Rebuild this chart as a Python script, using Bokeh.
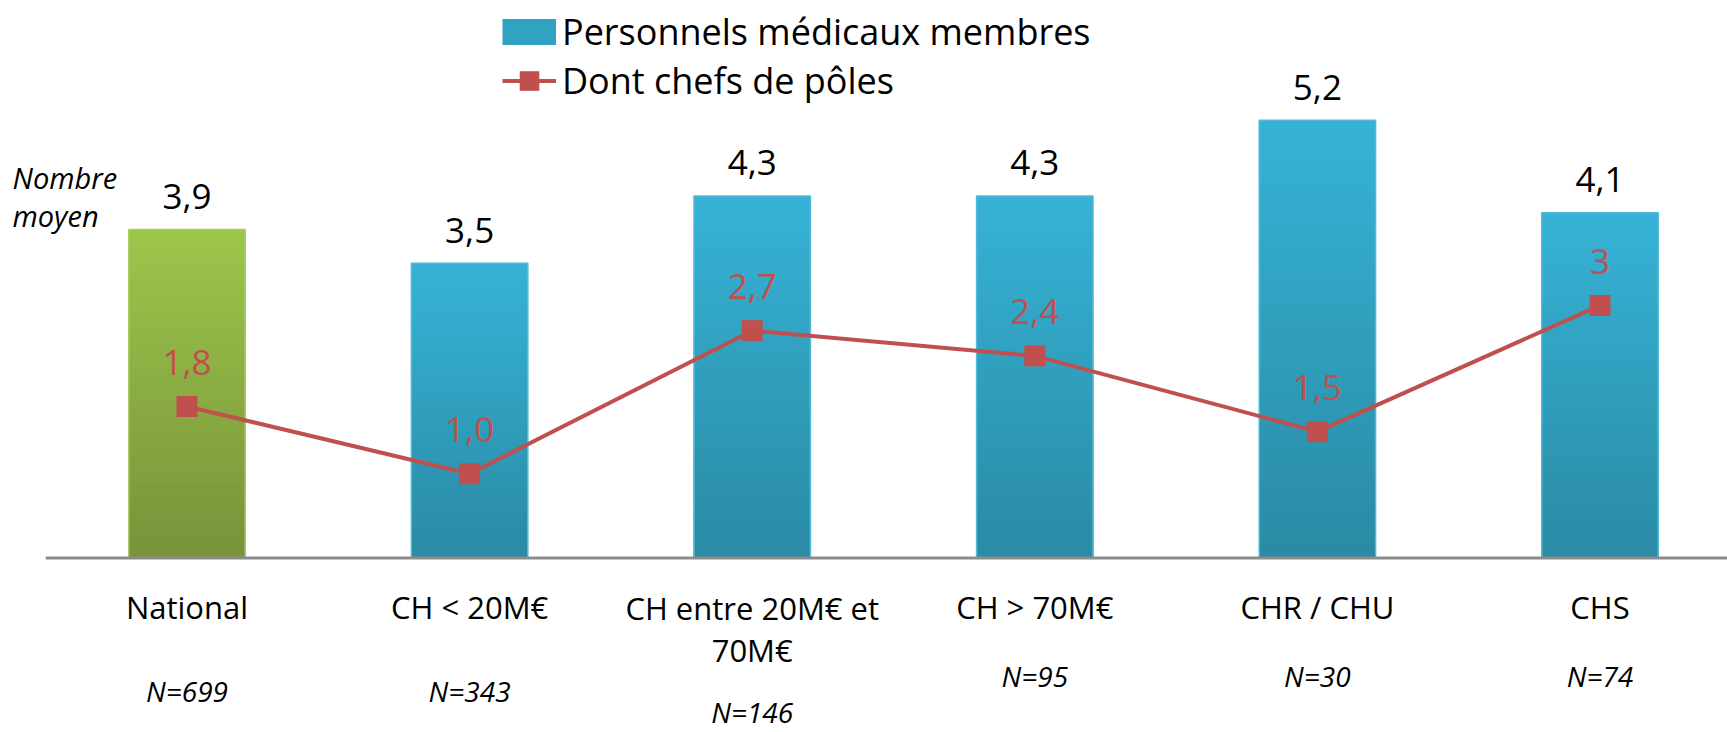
from bokeh.plotting import figure
from bokeh.models import Range1d, Legend, LegendItem, Label, ColumnDataSource
from bokeh.core.properties import value
from bokeh.embed import file_html
from bokeh.resources import INLINE

# ---------------- data ----------------
categories = ["National", "CH < 20M€", "CH entre 20M€ et\n70M€", "CH > 70M€", "CHR / CHU", "CHS"]
sample_sizes = ["N=699", "N=343", "N=146", "N=95", "N=30", "N=74"]
medical_members = [3.9, 3.5, 4.3, 4.3, 5.2, 4.1]
medical_labels = ["3,9", "3,5", "4,3", "4,3", "5,2", "4,1"]
pole_chiefs = [1.8, 1.0, 2.7, 2.4, 1.5, 3.0]
pole_labels = ["1,8", "1,0", "2,7", "2,4", "1,5", "3"]

# ---------------- layout / style ----------------
W, H = 1727, 732
X0_PX, STEP_PX = 186.5, 282.6      # px of first category centre, px per category
BASE_PX, UNIT_PX = 557.5, 84.2     # px of zero line, px per unit
FONT_NAME = "Open Sans"
FONT = value(FONT_NAME)
RED = "#C0504D"
BAR_W = 0.412
# (top colour, bottom colour, edge colour) per bar
bar_styles = [("#9DC54A", "#76923B", "#A9CC66")] + [("#36B2D6", "#2A8AA3", "#52BAD6")] * 5
N_SLICES = 40
CAT_LINE_PX = 43                  # line spacing of category labels
CAT_FIRST_LINE_PX = 49            # first label line centre below zero line
n_label_offsets = [133, 133, 154, 118, 118, 118]   # N= label centres below zero line

n = len(categories)
idx = list(range(n))

xr = Range1d(-X0_PX / STEP_PX, (W - X0_PX) / STEP_PX)
yr = Range1d(-(H - BASE_PX) / UNIT_PX, BASE_PX / UNIT_PX)

p = figure(width=W, height=H, x_range=xr, y_range=yr, x_axis_type=None, y_axis_type=None,
           toolbar_location=None, output_backend="svg", min_border=0,
           outline_line_color=None, background_fill_color="white")


def hex2rgb(h):
    h = h.lstrip("#")
    return tuple(int(h[i:i + 2], 16) for i in (0, 2, 4))


def mix(c_top, c_bot, t):
    a, b = hex2rgb(c_top), hex2rgb(c_bot)
    return "#%02x%02x%02x" % tuple(round(b[j] + (a[j] - b[j]) * t) for j in range(3))


# gradient bars: painted from full height (top colour) down to short (bottom colour)
g = dict(x=[], top=[], color=[])
for k in range(N_SLICES):
    frac = (N_SLICES - k) / N_SLICES
    for i, v in enumerate(medical_members):
        top_c, bot_c, _ = bar_styles[i]
        g["x"].append(i)
        g["top"].append(v * frac)
        g["color"].append(mix(top_c, bot_c, frac))
p.vbar(x="x", top="top", bottom=0, width=BAR_W, fill_color="color", line_color=None,
       source=ColumnDataSource(g))
p.vbar(x=idx, top=medical_members, bottom=0, width=BAR_W, fill_color=None,
       line_color=[s[2] for s in bar_styles], line_width=1.5)

# zero line
p.segment(x0=-0.5, y0=0, x1=n, y1=0, line_color="#8C8C8C", line_width=3)

# line series
line_r = p.line(x=idx, y=pole_chiefs, line_color=RED, line_width=4)
mark_r = p.scatter(x=idx, y=pole_chiefs, marker="square", size=21, fill_color=RED, line_color=None)

# value labels
p.text(x=idx, y=medical_members, text=medical_labels, text_align="center",
       text_baseline="middle", y_offset=-33, text_font=FONT, text_font_size="35px",
       text_color="black")
p.text(x=idx, y=pole_chiefs, text=pole_labels, text_align="center",
       text_baseline="middle", y_offset=-44, text_font=FONT, text_font_size="35px",
       text_color=RED)

# category labels (multi-line blocks are centred, so shift by half the extra lines)
cat_offsets = [CAT_FIRST_LINE_PX + CAT_LINE_PX * c.count("\n") / 2 for c in categories]
p.text(x=idx, y=[0] * n, text=categories, text_align="center", text_baseline="middle",
       y_offset=cat_offsets, text_font=FONT, text_font_size="31px", text_color="black",
       text_line_height=1.0)
# sample size labels
p.text(x=idx, y=[0] * n, text=sample_sizes, text_align="center", text_baseline="middle",
       y_offset=n_label_offsets, text_font=FONT, text_font_size="28px",
       text_font_style="italic", text_color="black")

# y-axis caption
p.add_layout(Label(x=12, y=H - 196, x_units="screen", y_units="screen",
                   text="Nombre\nmoyen", text_font=FONT_NAME, text_font_size="29px",
                   text_font_style="italic", text_baseline="middle",
                   text_line_height=0.95, text_color="black"))

# legend
nan = float("nan")
legend_bar = p.line(x=[nan], y=[nan], line_color="#31A2C2", line_width=26, line_cap="butt")
legend = Legend(items=[LegendItem(label="Personnels médicaux membres", renderers=[legend_bar]),
                       LegendItem(label="Dont chefs de pôles", renderers=[line_r, mark_r])],
                location=(502, H - 105), orientation="vertical",
                glyph_width=54, glyph_height=49, label_height=49, spacing=0, padding=0,
                margin=0, label_standoff=6, label_text_font=FONT_NAME, label_text_font_size="36px",
                label_text_color="black", background_fill_alpha=0, border_line_color=None)
p.add_layout(legend, "center")

open("out.html", "w").write(file_html(p, INLINE))
